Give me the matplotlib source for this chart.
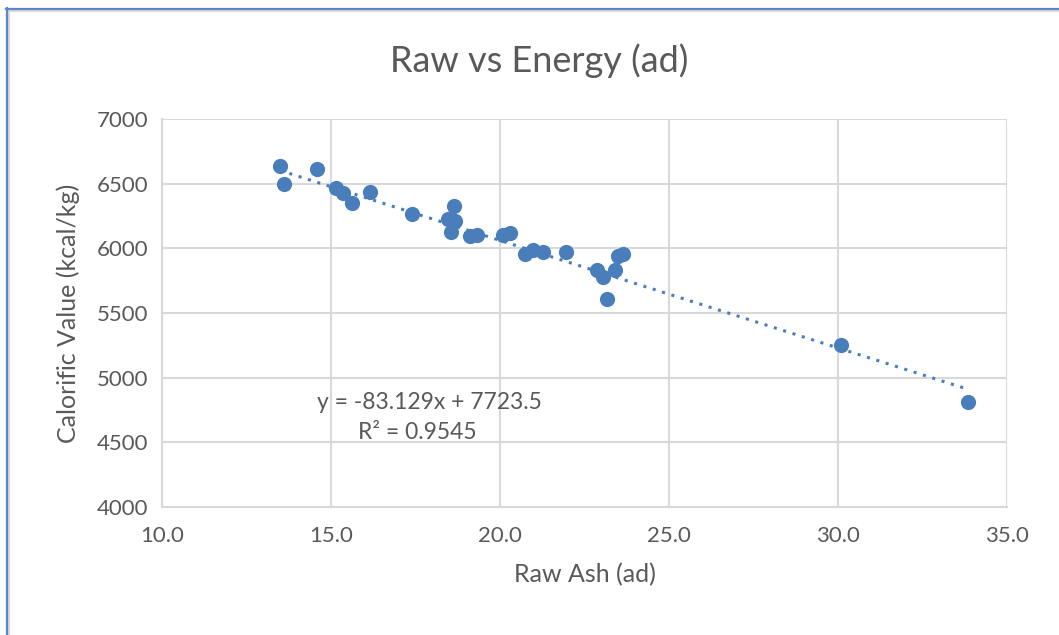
import numpy as np
import matplotlib
matplotlib.use("Agg")
import matplotlib.pyplot as plt
from matplotlib.lines import Line2D

# ---- data ----
raw_ash = [13.49, 13.61, 14.59, 15.15, 15.36, 15.62, 16.15, 17.40,
           18.64, 18.46, 18.67, 18.55, 19.11, 19.32, 20.09, 20.30,
           20.74, 20.98, 21.27, 21.95, 22.87, 23.05, 23.40, 23.49,
           23.64, 23.15, 30.10, 33.85]
calorific = [6640, 6498, 6615, 6470, 6425, 6350, 6435, 6265,
             6325, 6230, 6215, 6125, 6095, 6100, 6105, 6120,
             5960, 5985, 5970, 5975, 5830, 5780, 5835, 5940,
             5960, 5605, 5250, 4815]

slope = -83.129
intercept = 7723.5
r_squared = 0.9545

x_ticks = [10, 15, 20, 25, 30, 35]
y_ticks = [4000, 4500, 5000, 5500, 6000, 6500, 7000]

blue = "#4A7EBB"
grey_text = "#595959"
grid_col = "#D9D9D9"

plt.rcParams["font.family"] = ["Lato", "DejaVu Sans"]

fig = plt.figure(figsize=(10.59, 6.35), dpi=100)
ax = fig.add_axes([0.153, 0.2016, 0.798, 0.611])

# trendline
xs = np.array([min(raw_ash), max(raw_ash)])
ax.plot(xs, slope * xs + intercept, linestyle=(0, (1, 2.2)), color=blue,
        linewidth=2.2, zorder=2)

ax.scatter(raw_ash, calorific, s=120, color=blue, zorder=3, linewidths=0)

ax.set_xlim(10, 35)
ax.set_ylim(4000, 7000)
ax.set_xticks(x_ticks)
ax.set_xticklabels([f"{v:.1f}" for v in x_ticks])
ax.set_yticks(y_ticks)
ax.grid(True, color=grid_col, linewidth=1.5, zorder=0)
ax.set_axisbelow(True)
for side in ["top", "right"]:
    ax.spines[side].set_visible(False)
for side in ["left", "bottom"]:
    ax.spines[side].set_color(grid_col)
    ax.spines[side].set_linewidth(1.5)
ax.tick_params(length=0, labelsize=16, colors=grey_text)
ax.tick_params(axis="x", pad=14)
ax.tick_params(axis="y", pad=10)

ax.set_xlabel("Raw Ash (ad)", fontsize=18, color=grey_text, labelpad=12)
ax.set_ylabel("Calorific Value (kcal/kg)", fontsize=18, color=grey_text, labelpad=12)
fig.text(0.509, 0.905, "Raw vs Energy (ad)", fontsize=26, color=grey_text,
         ha="center", va="center")

ax.text(0.317, 0.27, f"y = {slope}x + {intercept}", transform=ax.transAxes,
        fontsize=16.5, color=grey_text, ha="center", va="center")
ax.text(0.302, 0.193, f"R² = {r_squared}", transform=ax.transAxes,
        fontsize=16.5, color=grey_text, ha="center", va="center")

# frame around the chart
W, H = 1059, 635
fig.add_artist(Line2D([9 / W, 1], [1 - 11 / H, 1 - 11 / H], color="#DADADA", lw=1.5))
fig.add_artist(Line2D([9 / W, 9 / W], [0, 1 - 11 / H], color="#DADADA", lw=1.5))
fig.add_artist(Line2D([6 / W, 1], [1 - 8.5 / H, 1 - 8.5 / H], color="#5B87C6", lw=1.6))
fig.add_artist(Line2D([6.5 / W, 6.5 / W], [0, 1 - 8 / H], color="#5B87C6", lw=1.6))

fig.savefig("out.png", dpi=100)
